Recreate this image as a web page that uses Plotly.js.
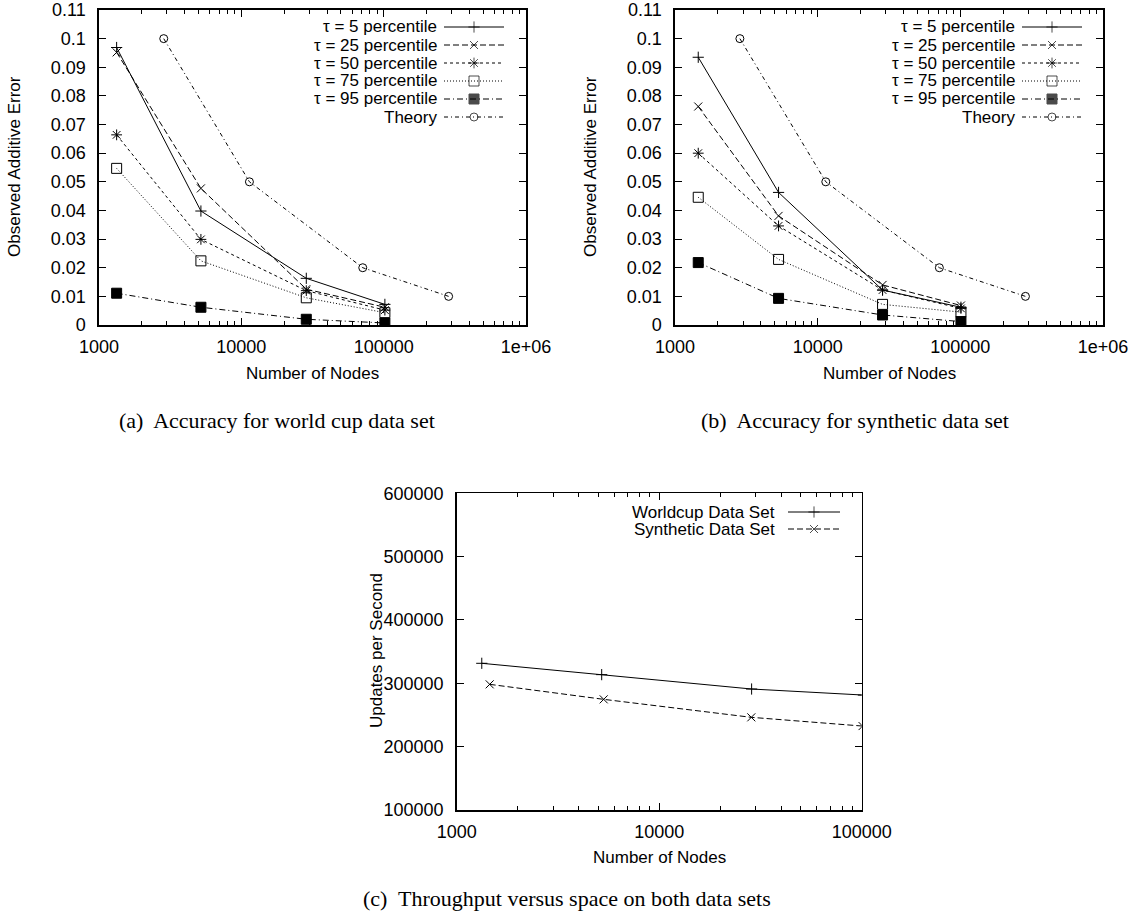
<!DOCTYPE html>
<html><head><meta charset="utf-8">
<script src="https://cdn.plot.ly/plotly-3.0.1.min.js"></script>
<style>html,body{margin:0;padding:0;background:#fff}</style>
</head><body><div id="chart" style="width:1134px;height:917px"></div>
<script>
// ---------------- data ----------------
const seriesNames = ['τ = 5 percentile','τ = 25 percentile','τ = 50 percentile','τ = 75 percentile','τ = 95 percentile','Theory'];
const worldcupNodes  = [1330, 5200, 28600, 102000];
const syntheticNodes = [1455, 5320, 28500, 101000];
const theoryNodes    = [2850, 11400, 71300, 286000];
const theoryError    = [0.1, 0.05, 0.02, 0.01];

const worldcupTau5  = [0.0969, 0.0398, 0.0163, 0.0072];
const worldcupTau25 = [0.0952, 0.0477, 0.0125, 0.0062];
const worldcupTau50 = [0.0664, 0.0299, 0.0120, 0.0052];
const worldcupTau75 = [0.0547, 0.0224, 0.0095, 0.0043];
const worldcupTau95 = [0.0111, 0.0062, 0.0020, 0.0007];

const syntheticTau5  = [0.0935, 0.0463, 0.0122, 0.0062];
const syntheticTau25 = [0.0763, 0.0381, 0.0140, 0.0068];
const syntheticTau50 = [0.0600, 0.0346, 0.0122, 0.0058];
const syntheticTau75 = [0.0446, 0.0229, 0.0072, 0.0045];
const syntheticTau95 = [0.0218, 0.0093, 0.0035, 0.0012];

const throughputNames = ['Worldcup Data Set', 'Synthetic Data Set'];
const worldcupThroughput  = [331600, 313700, 291000, 281450];
const syntheticThroughput = [298400, 274700, 246300, 232500];

const nodeTickLabels   = ['1000', '10000', '100000', '1e+06'];
const errorTickLabels  = ['0','0.01','0.02','0.03','0.04','0.05','0.06','0.07','0.08','0.09','0.1','0.11'];
const updateTickLabels = ['100000','200000','300000','400000','500000','600000'];

const captions = ['(a)\u00a0 Accuracy for world cup data set',
                  '(b)\u00a0 Accuracy for synthetic data set',
                  '(c)\u00a0 Throughput versus space on both data sets'];
const xTitle = 'Number of Nodes';
const yTitleErr = 'Observed Additive Error';
const yTitleUpd = 'Updates per Second';

// ---------------- styling ----------------
const W = 1134, H = 917;
const fx = v => v / W, fy = v => 1 - v / H;
const SANS = 'Liberation Sans, Arial, Helvetica, sans-serif';
const SERIF = 'Liberation Serif, Times New Roman, serif';
const tickFont = {family: SANS, size: 18, color: '#000'};
const textFont = {family: SANS, size: 17, color: '#000'};

const styles = [
  {dash: 'solid',            symbol: 'cross-thin-open', size: 8},
  {dash: '6px,3px',          symbol: 'x-thin-open',     size: 8},
  {dash: '3px,3px',          symbol: 'asterisk-open',   size: 9},
  {dash: '1px,2px',          symbol: 'square-open',     size: 10},
  {dash: '6px,3px,1px,3px',  symbol: 'square',          size: 10},
  {dash: '4px,3px,1px,3px',  symbol: 'circle-open',     size: 8}
];

function minorVals(lo, hi) {
  const v = [];
  for (let d = lo; d < hi; d *= 10) for (let k = 2; k <= 9; k++) v.push(k * d);
  return v;
}

function logAxis(domain, expRange, anchor, labels) {
  const vals = labels.map(Number);
  const lo = Math.pow(10, expRange[0]), hi = Math.pow(10, expRange[1]);
  const keep = vals.map((v, i) => i).filter(i => vals[i] >= lo && vals[i] <= hi);
  return {
    domain, anchor, type: 'log', range: expRange, showgrid: false, zeroline: false,
    showline: true, linecolor: '#000', linewidth: 1.6, mirror: 'allticks',
    ticks: 'inside', ticklen: 7, tickwidth: 1, tickcolor: '#000',
    tickmode: 'array', tickvals: keep.map(i => vals[i]), ticktext: keep.map(i => labels[i]),
    tickfont: tickFont, ticklabelstandoff: 5, fixedrange: true,
    minor: {ticks: 'inside', ticklen: 4, tickwidth: 1, tickcolor: '#000', showgrid: false,
            tickmode: 'array', tickvals: minorVals(lo, hi)}
  };
}
function linAxis(domain, range, anchor, labels) {
  return {
    domain, anchor, range, showgrid: false, zeroline: false,
    showline: true, linecolor: '#000', linewidth: 1.6, mirror: 'allticks',
    ticks: 'inside', ticklen: 7, tickwidth: 1, tickcolor: '#000',
    tickmode: 'array', tickvals: labels.map(Number), ticktext: labels,
    tickfont: tickFont, ticklabelstandoff: 8, fixedrange: true
  };
}

function seriesTrace(x, y, st, xa, ya, name) {
  return {
    type: 'scatter', mode: 'lines+markers', x, y, xaxis: xa, yaxis: ya, name,
    showlegend: false, cliponaxis: true,
    line: {color: '#000', width: 1, dash: st.dash},
    marker: {symbol: st.symbol, size: st.size, color: '#000', line: {color: '#000', width: 1}}
  };
}

const traces = [];
const panelA = [worldcupTau5, worldcupTau25, worldcupTau50, worldcupTau75, worldcupTau95];
const panelB = [syntheticTau5, syntheticTau25, syntheticTau50, syntheticTau75, syntheticTau95];
panelA.forEach((vals, i) => traces.push(seriesTrace(worldcupNodes, vals, styles[i], 'x', 'y', seriesNames[i])));
traces.push(seriesTrace(theoryNodes, theoryError, styles[5], 'x', 'y', seriesNames[5]));
panelB.forEach((vals, i) => traces.push(seriesTrace(syntheticNodes, vals, styles[i], 'x2', 'y2', seriesNames[i])));
traces.push(seriesTrace(theoryNodes, theoryError, styles[5], 'x2', 'y2', seriesNames[5]));
traces.push(seriesTrace(worldcupNodes, worldcupThroughput, styles[0], 'x3', 'y3', throughputNames[0]));
traces.push(seriesTrace(syntheticNodes, syntheticThroughput, styles[1], 'x3', 'y3', throughputNames[1]));

// ---------------- gnuplot-style keys (text left, sample right) ----------------
const annotations = [];
function addKey(names, st, textRight, lineL, lineR, rowTop, rowStep) {
  names.forEach((nm, i) => {
    const yy = rowTop + i * rowStep;
    annotations.push({xref: 'paper', yref: 'paper', x: fx(textRight), y: fy(yy), xanchor: 'right', yanchor: 'middle',
      text: nm, showarrow: false, font: textFont});
    traces.push({type: 'scatter', mode: 'lines+markers', xaxis: 'x4', yaxis: 'y4', showlegend: false, hoverinfo: 'skip',
      x: [lineL, (lineL + lineR) / 2, lineR], y: [yy, yy, yy],
      line: {color: '#000', width: 1, dash: st[i].dash},
      marker: {symbol: st[i].symbol, size: [0, st[i].size, 0], color: '#000', line: {color: '#000', width: 1}}});
  });
}
addKey(seriesNames, styles, 439, 444, 504, 27, 18);
addKey(seriesNames, styles, 1017, 1022, 1082, 27, 18);
addKey(throughputNames, styles, 777, 788, 840, 512, 17);

// axis titles
function title(text, x, y, angle) {
  annotations.push({xref: 'paper', yref: 'paper', x: fx(x), y: fy(y), xanchor: 'center', yanchor: 'middle',
    text, textangle: angle, showarrow: false, font: textFont});
}
title(yTitleErr, 14, 167, -90);
title(yTitleErr, 590, 167, -90);
title(xTitle, 312, 373, 0);
title(xTitle, 889, 373, 0);
title(yTitleUpd, 376, 651, -90);
title(xTitle, 659, 857, 0);
// captions
function caption(text, x, y) {
  annotations.push({xref: 'paper', yref: 'paper', x: fx(x), y: fy(y), xanchor: 'center', yanchor: 'middle',
    text, showarrow: false, font: {family: SERIF, size: 22, color: '#000'}});
}
caption(captions[0], 277, 420);
caption(captions[1], 855, 420);
caption(captions[2], 567, 898);

const layout = {
  width: W, height: H, margin: {l: 0, r: 0, t: 0, b: 0},
  paper_bgcolor: '#fff', plot_bgcolor: 'rgba(0,0,0,0)', showlegend: false,
  xaxis:  logAxis([fx(99), fx(526)], [3, 6], 'y', nodeTickLabels),
  yaxis:  linAxis([fy(325), fy(10)], [0, 0.11], 'x', errorTickLabels),
  xaxis2: logAxis([fx(675), fx(1103)], [3, 6], 'y2', nodeTickLabels),
  yaxis2: linAxis([fy(325), fy(10)], [0, 0.11], 'x2', errorTickLabels),
  xaxis3: logAxis([fx(456.7), fx(861.7)], [3, 5], 'y3', nodeTickLabels),
  yaxis3: linAxis([fy(810), fy(493.3)], [100000, 600000], 'x3', updateTickLabels),
  xaxis4: {domain: [0, 1], range: [0, W], visible: false, fixedrange: true, anchor: 'y4'},
  yaxis4: {domain: [0, 1], range: [H, 0], visible: false, fixedrange: true, anchor: 'x4'},
  annotations
};

Plotly.newPlot('chart', traces, layout, {staticPlot: true, displayModeBar: false});
</script>
</body></html>
